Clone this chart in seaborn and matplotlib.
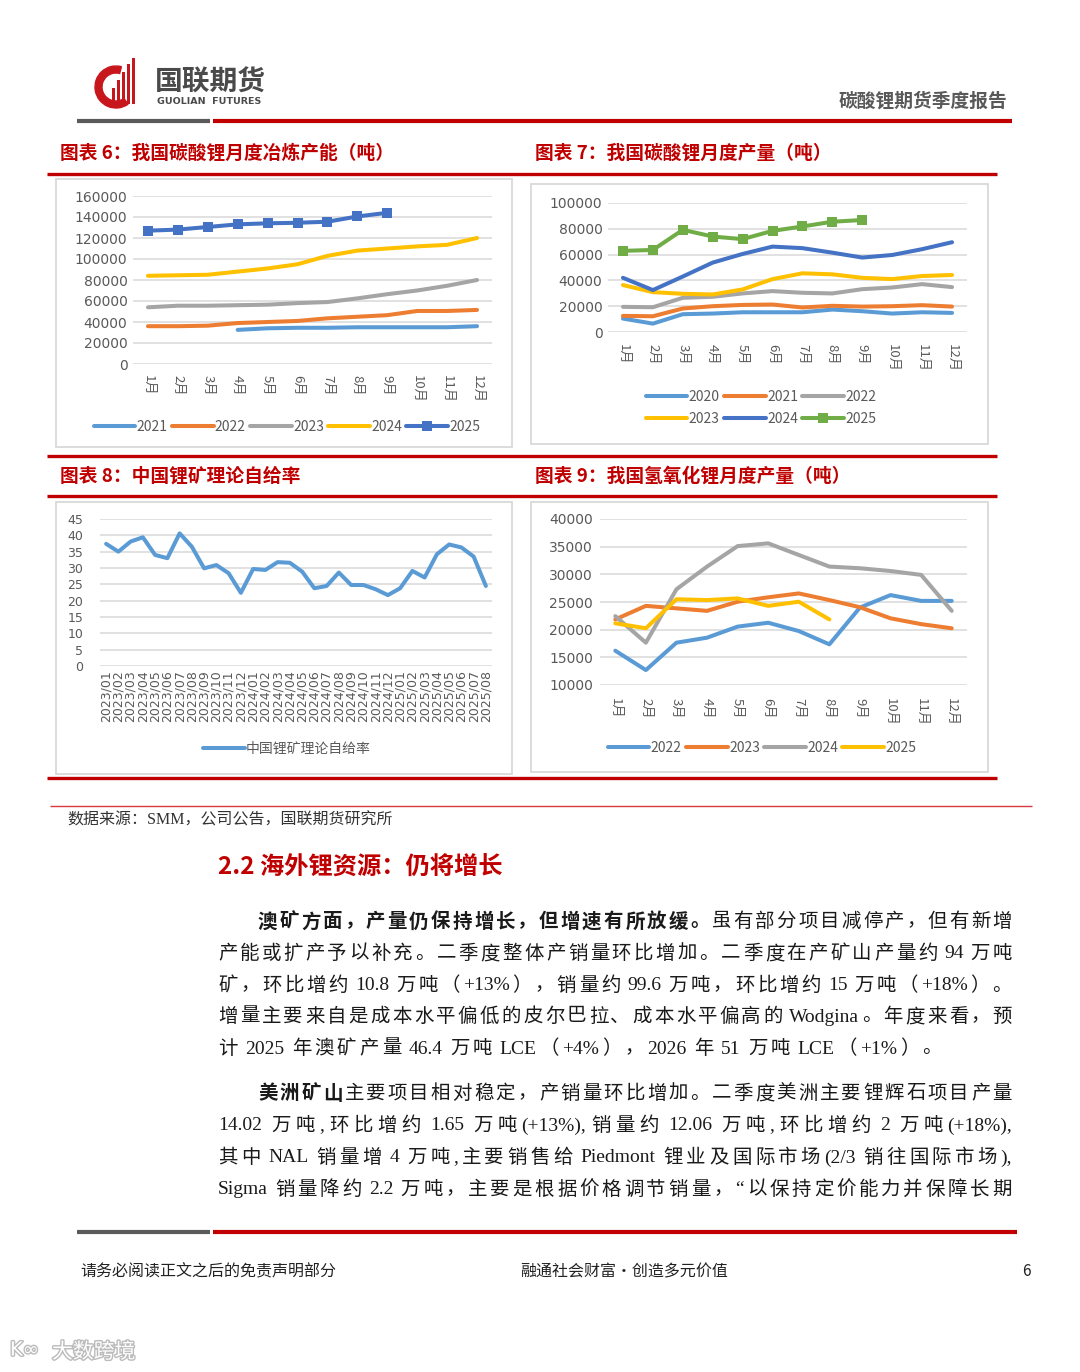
import matplotlib
matplotlib.use("Agg")
import matplotlib.pyplot as plt
import matplotlib.patches as mpatches
import matplotlib.patheffects as pe
from matplotlib.lines import Line2D
import seaborn as sns

W, H = 1080, 1372

# ---------------- data ----------------
months = ["1月", "2月", "3月", "4月", "5月", "6月", "7月", "8月", "9月", "10月", "11月", "12月"]

# 图表6 碳酸锂月度冶炼产能（吨）
cap_2021 = [None, None, None, 32500, 34000, 34500, 34500, 35000, 35000, 35000, 35000, 36000]
cap_2022 = [36000, 36000, 36500, 39000, 40000, 41000, 43500, 45000, 46500, 50500, 50500, 51500]
cap_2023 = [54000, 55500, 55500, 56000, 56500, 58000, 59000, 62500, 66500, 70000, 74500, 80000]
cap_2024 = [84000, 84500, 85000, 88000, 91000, 95000, 103000, 108000, 110000, 112000, 113500, 120000]
cap_2025 = [127000, 128000, 130500, 133000, 134000, 134500, 135500, 140500, 144000]

# 图表7 碳酸锂月度产量（吨）
out_2020 = [10400, 6500, 13800, 14300, 15300, 15300, 15300, 17400, 16100, 14300, 15300, 14800]
out_2021 = [12500, 12200, 18200, 20000, 21000, 21300, 19000, 20300, 19700, 20000, 20800, 19700]
out_2022 = [19500, 19200, 26500, 27300, 29900, 31700, 30400, 29900, 33200, 34500, 37100, 34800]
out_2023 = [36400, 30900, 29600, 29100, 33000, 41000, 45500, 44700, 42000, 41000, 43400, 44200]
out_2024 = [42000, 32500, 43000, 53800, 60500, 66200, 65000, 61500, 57700, 59700, 64200, 69600]
out_2025 = [62900, 63600, 79200, 74000, 72000, 78400, 81800, 85500, 86800]

# 图表8 中国锂矿理论自给率
ratio_dates = ["2023/01", "2023/02", "2023/03", "2023/04", "2023/05", "2023/06", "2023/07", "2023/08",
               "2023/09", "2023/10", "2023/11", "2023/12", "2024/01", "2024/02", "2024/03", "2024/04",
               "2024/05", "2024/06", "2024/07", "2024/08", "2024/09", "2024/10", "2024/11", "2024/12",
               "2025/01", "2025/02", "2025/03", "2025/04", "2025/05", "2025/06", "2025/07", "2025/08"]
self_ratio = [37.4, 35.0, 38.1, 39.4, 34.0, 33.0, 40.6, 36.5, 29.9, 30.9, 28.4, 22.4,
              29.7, 29.4, 31.8, 31.6, 28.9, 23.8, 24.5, 28.6, 24.8, 24.8, 23.5, 21.7,
              23.8, 29.1, 27.1, 34.2, 37.2, 36.3, 33.5, 24.5]

# 图表9 氢氧化锂月度产量（吨）
lioh_2022 = [16200, 12700, 17650, 18550, 20550, 21250, 19750, 17350, 24000, 26250, 25200, 25200]
lioh_2023 = [21850, 24300, 23850, 23400, 25050, 25850, 26550, 25350, 24050, 22050, 21000, 20250]
lioh_2024 = [22450, 17650, 27300, 31400, 35100, 35600, 33500, 31400, 31100, 30600, 29900, 23400]
lioh_2025 = [21150, 20250, 25500, 25350, 25650, 24300, 25050, 21850]

BLUE, ORANGE, GREY, YELLOW, DBLUE, GREEN = "#5B9BD5", "#ED7D31", "#A5A5A5", "#FFC000", "#4472C4", "#70AD47"
TXT = "#595959"
RED = "#C00000"

sns.set_theme(style="white")
plt.rcParams["font.family"] = ["Noto Sans CJK SC", "DejaVu Sans"]

fig = plt.figure(figsize=(W / 100, H / 100), dpi=100)
pg = fig.add_axes([0, 0, 1, 1])
pg.set_xlim(0, W)
pg.set_ylim(H, 0)
pg.axis("off")


def fig_rect(x0, y0, x1, y1):
    return [x0 / W, 1 - y1 / H, (x1 - x0) / W, (y1 - y0) / H]


def line_chart(rect, cats, series, ylim, ystep, rot, xpad, ypad, xsize, ysize=10):
    ax = fig.add_axes(fig_rect(*rect))
    for vals, color, marker in series:
        pts = [(i, v) for i, v in enumerate(vals) if v is not None]
        sns.lineplot(x=[p[0] for p in pts], y=[p[1] for p in pts], ax=ax, color=color,
                     lw=2.9, marker=marker, markersize=7.5, markeredgewidth=0, legend=False)
    ax.set_xlim(-0.5, len(cats) - 0.5)
    ax.set_ylim(*ylim)
    ax.set_yticks(list(range(ylim[0], ylim[1] + 1, ystep)))
    ax.set_xticks(list(range(len(cats))))
    ax.set_xticklabels(cats, rotation=rot, fontsize=xsize, color=TXT, va="top", ha="center")
    for lab in ax.get_yticklabels():
        lab.set_family(["DejaVu Sans"])
    ax.tick_params(axis="y", labelsize=ysize, labelcolor=TXT, length=0, pad=ypad)
    ax.tick_params(axis="x", length=0, pad=xpad)
    ax.yaxis.grid(True, color="#D9D9D9", lw=1.1)
    ax.set_axisbelow(True)
    for s in ax.spines.values():
        s.set_visible(False)
    ax.set_xlabel("")
    ax.set_ylabel("")
    return ax


def chart_legend(entries, cx, cy, ncol):
    handles = [Line2D([], [], color=c, lw=2.9, marker=m, markersize=7.5, markeredgewidth=0)
               for _, c, m in entries]
    fig.legend(handles, [e[0] for e in entries], loc="center", bbox_to_anchor=(cx / W, 1 - cy / H),
               ncol=ncol, frameon=False, fontsize=10, labelcolor=TXT, handlelength=3.0,
               handletextpad=0.1, columnspacing=0.3, borderpad=0, labelspacing=0.6)


# ---------------- page decoration ----------------
def hline(y, x0, x1, color, lw):
    pg.plot([x0, x1], [y, y], color=color, lw=lw, solid_capstyle="butt")


# logo
pg.add_patch(mpatches.Wedge((116, 87), 21, 55, 285, width=7, color="#C8161D"))
for bx, top in zip([112, 117, 122, 127, 132], [88, 80, 72, 64, 58]):
    pg.add_patch(mpatches.Rectangle((bx, top), 2.6, 104 - top, color="#C8161D", lw=0))
pg.text(155, 83, "国联期货", fontsize=20, fontweight="bold", color="#4A4A4A", va="center", ha="left")
pg.text(157, 101.5, "GUOLIAN  FUTURES", fontsize=6.8, fontweight="bold", color="#4A4A4A",
        va="center", ha="left", family=["DejaVu Sans"])
pg.text(1007, 101, "碳酸锂期货季度报告", fontsize=13.5, color=TXT, fontweight="bold", va="center", ha="right")
hline(121, 77, 210, "#5A5A5A", 3)
hline(121, 213, 1012, RED, 3)

# chart titles and separators
for tx, ty, title in [(60, 153, "图表 6：我国碳酸锂月度冶炼产能（吨）"), (535, 153, "图表 7：我国碳酸锂月度产量（吨）"),
                      (60, 476, "图表 8：中国锂矿理论自给率"), (535, 476, "图表 9：我国氢氧化锂月度产量（吨）")]:
    pg.text(tx, ty, title, fontsize=13.5, fontweight="bold", color=RED, va="center")
for yy in [174, 456, 496, 778]:
    hline(yy, 47, 997, RED, 2.4)
hline(806, 50, 1032, "#D9383E", 1)

# chart frames
for x0, y0, x1, y1 in [(56, 179, 512, 447), (531, 184, 988, 444), (56, 502, 512, 774), (531, 502, 988, 772)]:
    pg.add_patch(mpatches.Rectangle((x0, y0), x1 - x0, y1 - y0, fill=False, ec="#D9D9D9", lw=1.3))

# ---------------- charts ----------------
s6 = [(cap_2021, BLUE, None), (cap_2022, ORANGE, None), (cap_2023, GREY, None),
      (cap_2024, YELLOW, None), (cap_2025, DBLUE, "s")]
line_chart((133, 196, 492, 364), months, s6, (0, 160000), 20000, -90, 8, 4, 9.5)
chart_legend([("2021", BLUE, None), ("2022", ORANGE, None), ("2023", GREY, None),
              ("2024", YELLOW, None), ("2025", DBLUE, "s")], 287, 427, 5)

s7 = [(out_2020, BLUE, None), (out_2021, ORANGE, None), (out_2022, GREY, None),
      (out_2023, YELLOW, None), (out_2024, DBLUE, None), (out_2025, GREEN, "s")]
line_chart((608, 203, 967, 332), months, s7, (0, 100000), 20000, -90, 9, 4, 9.5)
# legend fills column by column: order so rows read 2020 2021 2022 / 2023 2024 2025
chart_legend([("2020", BLUE, None), ("2023", YELLOW, None), ("2021", ORANGE, None),
              ("2024", DBLUE, None), ("2022", GREY, None), ("2025", GREEN, "s")], 761, 408, 3)

ax8 = line_chart((100, 519, 492, 666), ratio_dates, [(self_ratio, BLUE, None)], (0, 45), 5, 90, 3, 12, 9, 9)
for lab in ax8.get_xticklabels():
    lab.set_family(["DejaVu Sans"])
chart_legend([("中国锂矿理论自给率", BLUE, None)], 287, 749, 1)

s9 = [(lioh_2022, BLUE, None), (lioh_2023, ORANGE, None), (lioh_2024, GREY, None), (lioh_2025, YELLOW, None)]
line_chart((600, 519, 967, 685), months, s9, (10000, 40000), 5000, -90, 9, 5, 9.5)
chart_legend([("2022", BLUE, None), ("2023", ORANGE, None), ("2024", GREY, None),
              ("2025", YELLOW, None)], 762, 748, 4)

# ---------------- body text ----------------
pg.text(67, 821, "数据来源：SMM，公司公告，国联期货研究所", fontsize=11.5, color="#333333", va="center",
        family=["Liberation Serif", "Noto Sans CJK SC"])
pg.text(218, 868, "2.2 海外锂资源：仍将增长", fontsize=17.5, fontweight="bold", color=RED, va="center")

BODY_FAMILY = ["Liberation Serif", "Noto Sans CJK SC"]
renderer = fig.canvas.get_renderer()


def body_line(y, x0, x1, segments):
    # tokens: each CJK char alone, ASCII runs together; spaces become a fixed lead-in width
    toks = []
    lead = 0.0
    for text, bold in segments:
        buf = ""
        for ch in text:
            if ch == " " or ord(ch) > 127:
                if buf:
                    toks.append([buf, bold, lead])
                    lead = 0.0
                    buf = ""
                if ch == " ":
                    lead += 4.5
                else:
                    toks.append([ch, bold, lead])
                    lead = 0.0
            else:
                buf += ch
        if buf:
            toks.append([buf, bold, lead])
            lead = 0.0
    arts, widths = [], []
    for t, bold, ld in toks:
        a = pg.text(0, y, t, fontsize=14, family=BODY_FAMILY, color="#1A1A1A",
                    fontweight="bold" if bold else "normal", va="center", ha="left")
        arts.append(a)
        widths.append(a.get_window_extent(renderer).width)
    total = sum(widths) + sum(t[2] for t in toks)
    gap = (x1 - x0 - total) / max(len(toks) - 1, 1)
    x = x0
    for i, (a, w) in enumerate(zip(arts, widths)):
        x += toks[i][2]
        a.set_x(x)
        x += w + gap


lines = [
    (922, 258, 1012, [("澳矿方面，产量仍保持增长，但增速有所放缓。", True), ("虽有部分项目减停产，但有新增", False)]),
    (954, 218, 1012, [("产能或扩产予以补充。二季度整体产销量环比增加。二季度在产矿山产量约 94 万吨", False)]),
    (986, 218, 1012, [("矿，环比增约 10.8 万吨（+13%），销量约 99.6 万吨，环比增约 15 万吨（+18%）。", False)]),
    (1017, 218, 1012, [("增量主要来自是成本水平偏低的皮尔巴拉、成本水平偏高的 Wodgina。年度来看，预", False)]),
    (1049, 218, 942, [("计 2025 年澳矿产量 46.4 万吨 LCE（+4%），2026 年 51 万吨 LCE（+1%）。", False)]),
    (1094, 258, 1012, [("美洲矿山", True), ("主要项目相对稳定，产销量环比增加。二季度美洲主要锂辉石项目产量", False)]),
    (1126, 218, 1012, [("14.02 万吨,环比增约 1.65 万吨(+13%),销量约 12.06 万吨,环比增约 2 万吨(+18%),", False)]),
    (1158, 218, 1012, [("其中 NAL 销量增 4 万吨,主要销售给 Piedmont 锂业及国际市场(2/3 销往国际市场),", False)]),
    (1190, 218, 1012, [("Sigma 销量降约 2.2 万吨，主要是根据价格调节销量，“以保持定价能力并保障长期", False)]),
]
for y, x0, x1, segs in lines:
    body_line(y, x0, x1, segs)

# footer
hline(1232, 77, 210, "#5A5A5A", 3)
hline(1232, 213, 1017, RED, 3)
pg.text(80, 1272, "请务必阅读正文之后的免责声明部分", fontsize=11.5, color="#222222", va="center")
pg.text(520, 1272, "融通社会财富•创造多元价值", fontsize=11.5, color="#222222", va="center")
pg.text(1022, 1272, "6", fontsize=11, color="#222222", va="center", ha="left")
pg.text(52, 1352, "大数跨境", fontsize=15, color="white", va="center", ha="left",
        path_effects=[pe.withStroke(linewidth=2, foreground="#BBBBBB")])
pg.text(10, 1350, "K∞", fontsize=14, color="white", va="center", ha="left", family=["DejaVu Sans"],
        path_effects=[pe.withStroke(linewidth=2, foreground="#BBBBBB")])

fig.savefig("out.png", dpi=100)
